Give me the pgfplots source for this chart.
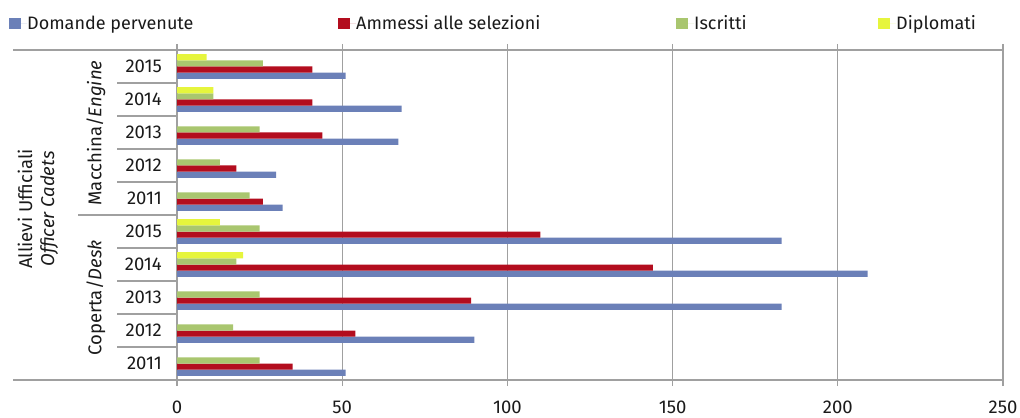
\documentclass[border=0pt]{standalone}
\usepackage{fontspec}
\setmainfont{Fira Sans}
\usepackage{pgfplots}
\pgfplotsset{compat=1.18}

\definecolor{cDom}{HTML}{6B80B8}
\definecolor{cAmm}{HTML}{B30D1E}
\definecolor{cIsc}{HTML}{A9C66F}
\definecolor{cDip}{HTML}{E6F53D}
\definecolor{axisgray}{HTML}{A0A0A0}
\definecolor{txt}{HTML}{1A1A1A}

\newcommand{\chartfont}{\fontsize{18.5bp}{22bp}\selectfont}
\newcommand{\legendfont}{\fontsize{18bp}{22bp}\selectfont}

% positions: 0-4 = Coperta/Desk 2011-2015, 5-9 = Macchina/Engine 2011-2015
\pgfplotstableread{
pos dom amm isc
0   51  35  25
1   90  54  17
2   183 89  25
3   209 144 18
4   183 110 25
5   32  26  22
6   30  18  13
7   67  44  25
8   68  41  11
9   51  41  26
}\tabcorsi
\pgfplotstableread{
pos dip
3   20
4   13
8   11
9   9
}\tabdiplomati

\begin{document}
\begin{tikzpicture}[x=1bp,y=1bp,font=\chartfont,text=txt]
\useasboundingbox (0,0) rectangle (1020,417);
\begin{axis}[
  at={(177bp,37bp)}, anchor=south west,
  scale only axis, width=826bp, height=330bp,
  xbar, bar width=6.2bp,
  xmin=0, xmax=250, ymin=-0.5, ymax=9.5,
  xtick={0,50,...,250},
  ytick={0,...,9},
  yticklabels={2011,2012,2013,2014,2015,2011,2012,2013,2014,2015},
  ytick style={draw=none},
  tick align=outside, major tick length=6bp,
  xtick style={draw=axisgray, line width=1.2bp},
  xmajorgrids, grid style={draw=axisgray, line width=1.2bp},
  axis line style={draw=axisgray, line width=1.6bp},
  /pgf/number format/assume math mode=true,
  tick label style={font=\chartfont, text=txt},
  yticklabel style={anchor=east, inner sep=0pt, xshift=-9bp},
  xticklabel style={anchor=north, inner sep=0pt, yshift=-15bp},
  clip=false,
  legend columns=4,
  legend cell align=left,
  legend style={at={(axis description cs:0,1)}, anchor=west,
    xshift=-168bp, yshift=26.5bp, draw=none, fill=none,
    font=\legendfont, text=txt,
    nodes={inner sep=0pt, anchor=west},
    column sep=0pt, row sep=0pt, inner sep=0pt},
  legend image code/.code={%
    \path (0bp,0bp) -- (18bp,0bp);
    \fill[#1] (0bp,-5.5bp) rectangle (12bp,5.5bp);},
]
\addplot[fill=cDom, draw=none, bar shift=-9.3bp] table[x=dom, y=pos] {\tabcorsi};
\addlegendentry{\makebox[311bp][l]{Domande pervenute}}
\addplot[fill=cAmm, draw=none, bar shift=-3.1bp] table[x=amm, y=pos] {\tabcorsi};
\addlegendentry{\makebox[320bp][l]{Ammessi alle selezioni}}
\addplot[fill=cIsc, draw=none, bar shift=3.1bp] table[x=isc, y=pos] {\tabcorsi};
\addlegendentry{\makebox[184bp][l]{Iscritti}}
\addplot[fill=cDip, draw=none, bar shift=9.3bp] table[x=dip, y=pos] {\tabdiplomati};
\addlegendentry{Diplomati}
\end{axis}

% hierarchical category frame on the left
\begin{scope}[draw=axisgray, line width=1.4bp]
  \draw (13,367) -- (177,367);
  \draw (13,37) -- (177,37);
  \draw (78,202) -- (177,202);
  \foreach \k in {1,2,3,4,6,7,8,9} {
    \draw (117,{367-33*\k}) -- (177,{367-33*\k});
  }
\end{scope}
\node[rotate=90, align=center, inner sep=0pt] at (38,208)
  {Allievi Ufficiali\\\textit{Officer Cadets}};
\node[rotate=90, inner sep=0pt] at (96,284) {Macchina/\textit{Engine}};
\node[rotate=90, inner sep=0pt] at (96,119) {Coperta/\textit{Desk}};
\end{tikzpicture}
\end{document}
